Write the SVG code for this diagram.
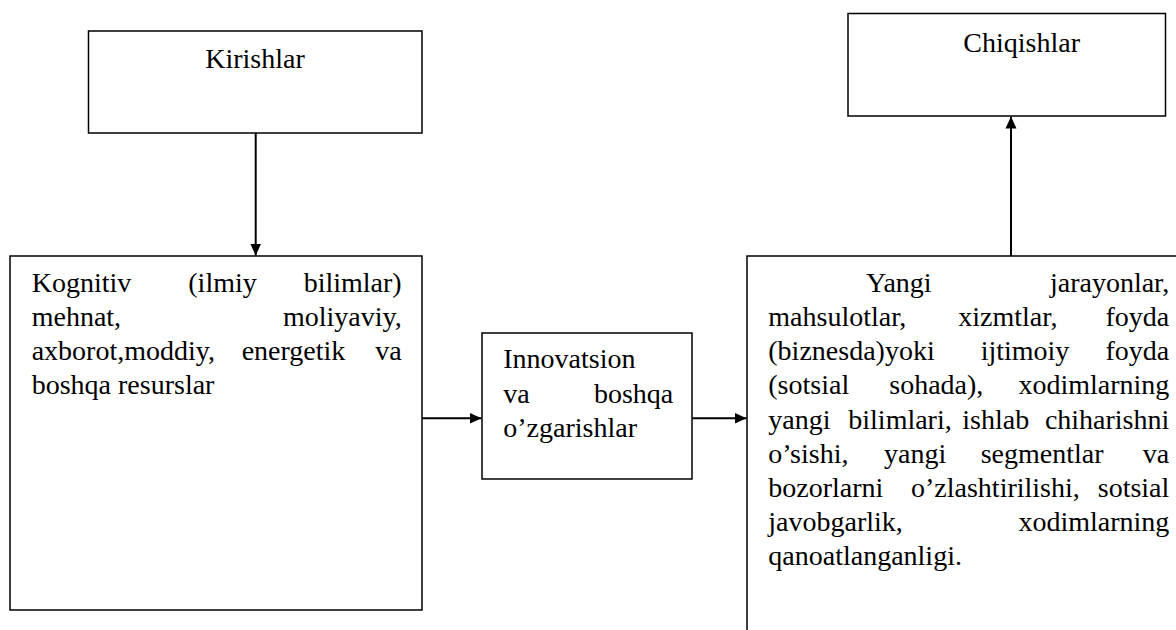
<svg xmlns="http://www.w3.org/2000/svg" width="1176" height="630" viewBox="0 0 1176 630">
<defs>
<marker id="ah" markerUnits="userSpaceOnUse" markerWidth="12" markerHeight="12" viewBox="0 0 12 12" refX="12" refY="6" orient="auto">
<path d="M0,0.5 L12,6 L0,11.5 Z" fill="#000"/>
</marker>
<style>
.box{fill:#fff;stroke:#000;stroke-width:1.5}
.t{font-family:"Liberation Serif","Times New Roman",serif;font-size:28px;fill:#000}
.c{stroke:#000;stroke-width:2;fill:none}
</style>
</defs>
<rect width="1176" height="630" fill="#fff"/>
<g id="kirishlar">
<rect class="box" x="88.5" y="31" width="333.5" height="102"/>
<text class="t" x="255" y="68" text-anchor="middle">Kirishlar</text>
</g>
<g id="resurslar">
<rect class="box" x="10" y="256" width="412" height="354"/>
<text class="t"><tspan x="31.7" y="291.7">Kognitiv</tspan><tspan x="188.3" y="291.7">(ilmiy</tspan><tspan x="401.7" y="291.7" text-anchor="end">bilimlar)</tspan></text>
<text class="t"><tspan x="31.7" y="325.9">mehnat,</tspan><tspan x="401.7" y="325.9" text-anchor="end">moliyaviy,</tspan></text>
<text class="t"><tspan x="31.7" y="360.1">axborot,moddiy,</tspan><tspan x="241.7" y="360.1">energetik</tspan><tspan x="401.7" y="360.1" text-anchor="end">va</tspan></text>
<text class="t" x="31.7" y="394.3">boshqa resurslar</text>
</g>
<g id="innovatsion">
<rect class="box" x="482" y="333" width="210" height="146"/>
<text class="t" x="503.3" y="368">Innovatsion</text>
<text class="t"><tspan x="503.3" y="402.5">va</tspan><tspan x="673.3" y="402.5" text-anchor="end">boshqa</tspan></text>
<text class="t" x="503.3" y="436.5">o’zgarishlar</text>
</g>
<g id="natijalar">
<rect class="box" x="747" y="256" width="500" height="500"/>
<text class="t"><tspan x="866" y="291.7">Yangi</tspan><tspan x="1169.3" y="291.7" text-anchor="end">jarayonlar,</tspan></text>
<text class="t"><tspan x="768.3" y="325.9">mahsulotlar,</tspan><tspan x="958.3" y="325.9">xizmtlar,</tspan><tspan x="1169.3" y="325.9" text-anchor="end">foyda</tspan></text>
<text class="t"><tspan x="768.3" y="360.1">(biznesda)yoki</tspan><tspan x="980.7" y="360.1">ijtimoiy</tspan><tspan x="1169.3" y="360.1" text-anchor="end">foyda</tspan></text>
<text class="t"><tspan x="768.3" y="394.3">(sotsial</tspan><tspan x="889.3" y="394.3">sohada),</tspan><tspan x="1169.3" y="394.3" text-anchor="end">xodimlarning</tspan></text>
<text class="t"><tspan x="768.3" y="428.5">yangi</tspan><tspan x="848.3" y="428.5">bilimlari,</tspan><tspan x="962.3" y="428.5">ishlab</tspan><tspan x="1169.3" y="428.5" text-anchor="end">chiharishni</tspan></text>
<text class="t"><tspan x="768.3" y="462.7">o’sishi,</tspan><tspan x="884" y="462.7">yangi</tspan><tspan x="980.7" y="462.7">segmentlar</tspan><tspan x="1169.3" y="462.7" text-anchor="end">va</tspan></text>
<text class="t"><tspan x="768.3" y="496.9">bozorlarni</tspan><tspan x="911" y="496.9">o’zlashtirilishi,</tspan><tspan x="1169.3" y="496.9" text-anchor="end">sotsial</tspan></text>
<text class="t"><tspan x="768.3" y="531.1">javobgarlik,</tspan><tspan x="1169.3" y="531.1" text-anchor="end">xodimlarning</tspan></text>
<text class="t" x="768.3" y="565.3">qanoatlanganligi.</text>
</g>
<g id="chiqishlar">
<rect class="box" x="848" y="13.5" width="317.5" height="102.5"/>
<text class="t" x="1021.7" y="52" text-anchor="middle">Chiqishlar</text>
</g>
<g id="connectors">
<line class="c" x1="255.7" y1="133" x2="255.7" y2="255.5" marker-end="url(#ah)"/>
<line class="c" x1="422" y1="418.3" x2="481.5" y2="418.3" marker-end="url(#ah)"/>
<line class="c" x1="692" y1="418.3" x2="746.5" y2="418.3" marker-end="url(#ah)"/>
<line class="c" x1="1011" y1="256" x2="1011" y2="116.5" marker-end="url(#ah)"/>
</g>
</svg>
